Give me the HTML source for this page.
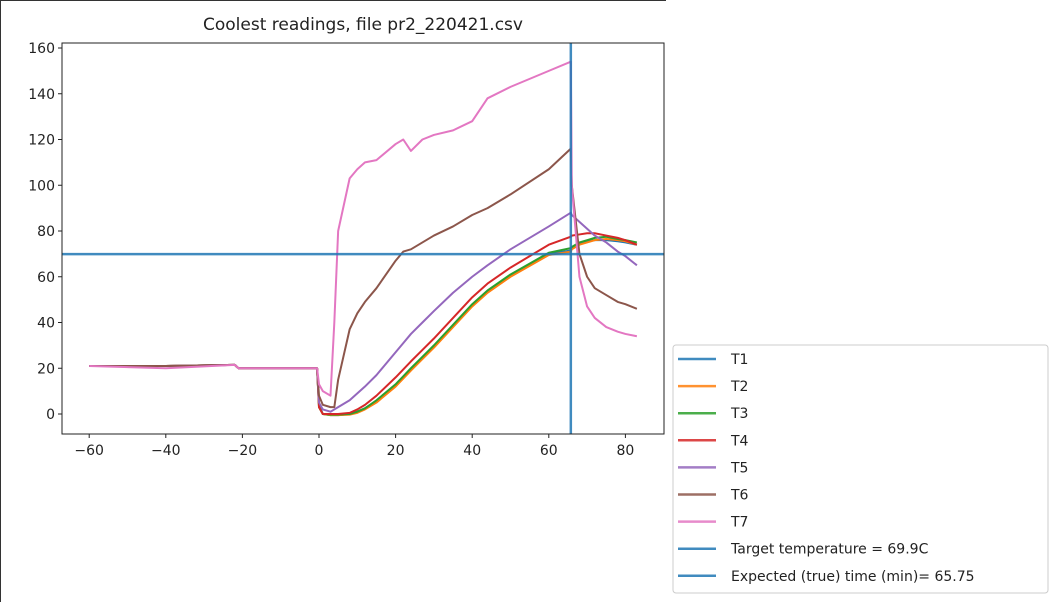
<!DOCTYPE html>
<html><head><meta charset="utf-8"><style>
body{margin:0;background:#fff;width:1058px;height:602px;overflow:hidden;font-family:"DejaVu Sans","Liberation Sans",sans-serif}
svg text{font-family:"DejaVu Sans","Liberation Sans",sans-serif;fill:#222}
</style></head><body>
<svg id="c" width="1058" height="602">
<line x1="0.5" y1="0" x2="0.5" y2="602" stroke="#333"/>
<line x1="0" y1="0.5" x2="666" y2="0.5" stroke="#333"/>
<text x="363" y="30" font-size="17" text-anchor="middle">Coolest readings, file pr2_220421.csv</text>
<g id="plot"></g>
<rect x="62" y="43" width="602" height="391" fill="none" stroke="#222" stroke-width="1"/>
<g id="legend"></g>
</svg>
<script>
const times=[-60,-40,-22,-21,-12,-0.5,0,1,3,4,5,8,10,12,15,20,22,24,27,30,35,40,44,50,60,65.75,66,68,70,72,75,78,80,83];
const T1=[21,21,21.5,20,20,20,4,0,-0.5,-0.5,-0.5,0,1,2.5,5.5,12.5,16,19.5,24.5,29.5,38.5,47.5,53.5,60.5,70,71.5,72.5,74.5,75.5,76,76,75.5,75,74];
const T2=[21,21,21.5,20,20,20,3,0,-0.5,-0.5,-0.5,-0.3,0.5,2,5,12,15.5,19,24,29,38,47,53,60,69.5,71,72,74,75,76,76.5,76,75.5,74];
const T3=[21,21,21.5,20,20,20,3,0,-0.3,-0.3,-0.3,0,1,2.5,6,13,16.5,20,25,30,39,48,54,61,70.5,72.5,73,75,76,77,77.5,76.5,76,75];
const T4=[21,21,21.5,20,20,20,3,0,0,0,0,0.5,2,4,8,16,19.5,23,28,33,42,51,57,64,74,77.5,78,78.5,79,79,78,77,76,74];
const T5=[21,21,21.5,20,20,20,5,2,1,2,3,6,9,12,17,27,31,35,40,45,53,60,65,72,82,88,87,84,81,78,75,71,69,65];
const T6=[21,21,21.5,20,20,20,8,4,3,3,15,37,44,49,55,67,71,72,75,78,82,87,90,96,107,116,100,70,60,55,52,49,48,46];
const T7=[21,20,21.5,20,20,20,13,10,8,40,80,103,107,110,111,118,120,115,120,122,124,128,138,143,150,154,100,60,47,42,38,36,35,34];
const seriesNames=["T1","T2","T3","T4","T5","T6","T7"];
const seriesVals=[T1,T2,T3,T4,T5,T6,T7];
const colors=["#1f77b4","#ff7f0e","#2ca02c","#d62728","#9467bd","#8c564b","#e377c2"];
const xTicks=[-60,-40,-20,0,20,40,60,80];
const yTicks=[0,20,40,60,80,100,120,140,160];
const targetTemp=69.9, expectedTime=65.75;
const X=v=>319+v*3.83, Y=v=>414-v*2.2875;
const NS="http://www.w3.org/2000/svg";
const plot=document.getElementById('plot');
function mk(t,a,p){const e=document.createElementNS(NS,t);for(const k in a)e.setAttribute(k,a[k]);(p||plot).appendChild(e);return e;}
xTicks.forEach(v=>{
 const g=mk('g',{});
 
 
 mk('line',{x1:X(v),x2:X(v),y1:434,y2:438,stroke:'#222'},g);
 const t=mk('text',{x:X(v),y:455,'font-size':14,'text-anchor':'middle'},g);t.textContent=(v<0?'\u2212'+(-v):v);
});
yTicks.forEach(v=>{
 const g=mk('g',{});
 
 
 mk('line',{x1:58,x2:62,y1:Y(v),y2:Y(v),stroke:'#222'},g);
 const t=mk('text',{x:55,y:Y(v)+5,'font-size':14,'text-anchor':'end'},g);t.textContent=v;
});
seriesVals.forEach((s,i)=>{
 const p=mk('polyline',{points:s.map((v,j)=>X(times[j])+','+Y(v)).join(' '),fill:'none',stroke:colors[i],'stroke-width':2,'stroke-linejoin':'round'});
 
 
});
const hl=mk('line',{x1:62,x2:664,y1:Y(targetTemp),y2:Y(targetTemp),stroke:'#1f77b4','stroke-width':2.5,opacity:0.85});


const vl=mk('line',{x1:X(expectedTime),x2:X(expectedTime),y1:43,y2:434,stroke:'#1f77b4','stroke-width':2.5,opacity:0.85});


const lg=document.getElementById('legend');
mk('rect',{x:673,y:345,width:375,height:248,fill:'#fff',stroke:'#ccc',rx:3},lg);
const labels=seriesNames.concat(["Target temperature = 69.9C","Expected (true) time (min)= 65.75"]);
const lcols=colors.concat(["#1f77b4","#1f77b4"]);
labels.forEach((l,i)=>{
 const y=359+i*27.1;
 const g=mk('g',{},lg);
 
 
 mk('line',{x1:678,x2:716,y1:y,y2:y,stroke:lcols[i],'stroke-width':2.5,opacity:0.85},g);
 const t=mk('text',{x:731,y:y+5,'font-size':14},g);t.textContent=l;
});
</script>
</body></html>
